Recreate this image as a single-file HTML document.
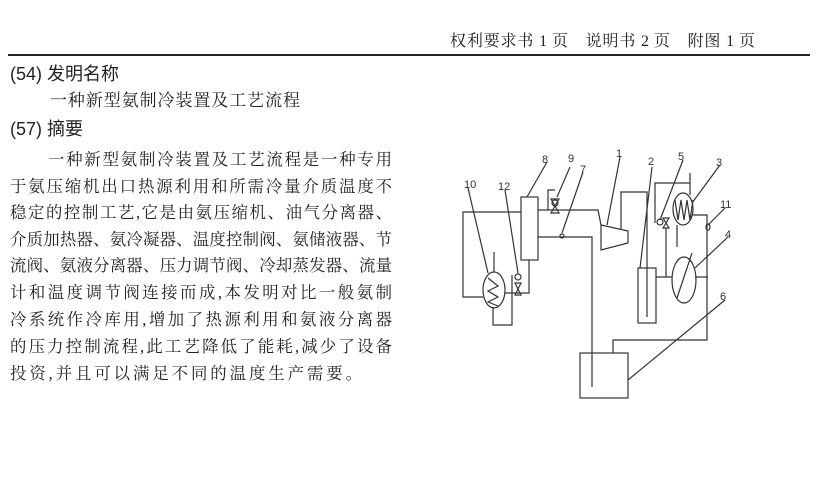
<!DOCTYPE html>
<html><head><meta charset="utf-8"><style>
body{margin:0;width:836px;height:497px;background:#fff;position:relative;overflow:hidden;font-family:"Liberation Serif","Noto Serif CJK SC",serif;color:#222}
.t{position:absolute;white-space:nowrap;font-size:17px;line-height:20px}
.j{position:absolute;font-size:16.4px;line-height:20px;height:20px;overflow:hidden;text-align:justify;text-align-last:justify;white-space:normal}
.h{font-family:"Liberation Sans","Noto Sans CJK SC",sans-serif;font-size:18px}
svg{position:absolute;left:0;top:0}
</style></head><body>
<div class="j" style="left:450px;top:32px;width:305px;font-size:16px">权利要求书 1 页　说明书 2 页　附图 1 页</div>
<div style="position:absolute;left:8px;top:54px;width:802px;height:2px;background:#222"></div>
<div class="t h" style="left:10px;top:64px">(54) 发明名称</div>
<div class="j" style="left:50px;top:91px;width:250px;font-size:17px">一种新型氨制冷装置及工艺流程</div>
<div class="t h" style="left:10px;top:119px">(57) 摘要</div>
<div class="j" style="left:48px;top:150px;width:344px">一种新型氨制冷装置及工艺流程是一种专用</div>
<div class="j" style="left:10px;top:177px;width:382px">于氨压缩机出口热源利用和所需冷量介质温度不</div>
<div class="j" style="left:10px;top:203px;width:382px">稳定的控制工艺,它是由氨压缩机、油气分离器、</div>
<div class="j" style="left:10px;top:230px;width:382px">介质加热器、氨冷凝器、温度控制阀、氨储液器、节</div>
<div class="j" style="left:10px;top:256px;width:382px">流阀、氨液分离器、压力调节阀、冷却蒸发器、流量</div>
<div class="j" style="left:10px;top:283px;width:382px">计和温度调节阀连接而成,本发明对比一般氨制</div>
<div class="j" style="left:10px;top:310px;width:382px">冷系统作冷库用,增加了热源利用和氨液分离器</div>
<div class="j" style="left:10px;top:337px;width:382px">的压力控制流程,此工艺降低了能耗,减少了设备</div>
<div class="j" style="left:10px;top:364px;width:352px">投资,并且可以满足不同的温度生产需要。</div>
<svg width="836" height="497" viewBox="0 0 836 497" fill="none" stroke="#333" stroke-width="1.2" font-family="Liberation Sans, sans-serif" font-size="11">
<rect x="521" y="197" width="17" height="63"/>
<path d="M601 225 L628 231 L628 243 L601 250 Z"/>
<rect x="638" y="268" width="18" height="55"/>
<rect x="580" y="353" width="48" height="45"/>
<ellipse cx="683" cy="209" rx="10" ry="16"/>
<ellipse cx="684" cy="280" rx="12" ry="23"/>
<ellipse cx="494" cy="290" rx="11" ry="18"/>
<path d="M521 212 H463 V297 H483"/>
<path d="M538 210 H598 L601 225"/>
<path d="M548 210 V190 H555"/>
<path d="M551 199 L559 199 L551 213 L559 213 Z"/><circle cx="555" cy="203" r="3"/>
<path d="M538 237 H592 V387"/><circle cx="562" cy="236" r="2"/>
<path d="M621 229 V192 H647 V317"/>
<path d="M655 223 V183 H690 V195 M690 173 V183"/>
<path d="M663 218 L669 218 L663 228 L669 228 Z"/><circle cx="660" cy="222" r="3"/>
<path d="M666 228 V277 M656 277 H672 M677 225 V247"/>
<path d="M693 215 H707 V340 H613 V353 M695 277 H708"/>
<ellipse cx="708" cy="227" rx="2" ry="3"/>
<path d="M675 200 l3 20 l3 -20 l3 20 l3 -20 l3 20 l3 -20"/>
<path d="M692 253 L677 298"/>
<path d="M505 293 H529 V260"/>
<path d="M515 283 L521 283 L515 295 L521 295 Z"/><circle cx="518" cy="277" r="3"/>
<path d="M512 275 V325 H493 V307 M494 252 V272"/>
<path d="M488 278 l10 8 l-10 5 l10 6 l-10 5 l10 4"/>
<path d="M527 197 L547 162 M557 197 L570 167 M562 233 L583 172 M607 225 L620 157 M640 268 L652 167 M660 220 L683 160 M692 203 L720 165 M708 225 L725 208 M695 268 L728 237 M628 380 L725 300 M488 273 L468 188 M518 273 L505 190"/>
<g fill="#333" stroke="none">
<text x="464" y="188">10</text><text x="498" y="190">12</text><text x="542" y="163">8</text>
<text x="568" y="162">9</text><text x="580" y="173">7</text><text x="616" y="157">1</text>
<text x="648" y="165">2</text><text x="678" y="160">5</text><text x="716" y="166">3</text>
<text x="720" y="208">11</text><text x="725" y="238">4</text><text x="720" y="300">6</text>
</g>
</svg>
</body></html>
